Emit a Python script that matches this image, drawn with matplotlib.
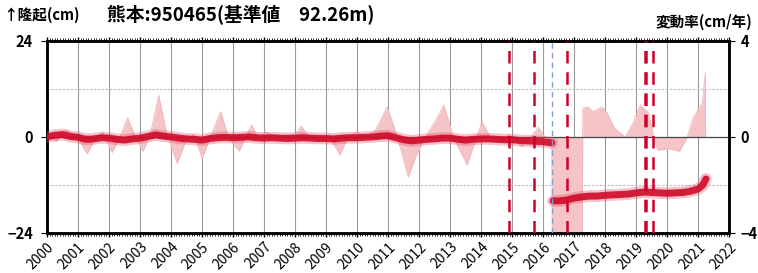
import matplotlib
matplotlib.use("Agg")
import matplotlib.pyplot as plt

plt.rcParams["font.family"] = ["Noto Sans CJK JP", "DejaVu Sans"]

# displacement (cm)
disp_t_pre = [2000.0, 2000.25, 2000.5, 2000.75, 2001.0, 2001.25, 2001.5, 2001.75,
              2002.0, 2002.25, 2002.5, 2002.75, 2003.0, 2003.25, 2003.5, 2003.75,
              2004.0, 2004.25, 2004.5, 2004.75, 2005.0, 2005.25, 2005.5, 2005.75,
              2006.0, 2006.25, 2006.5, 2006.75, 2007.0, 2007.25, 2007.5, 2007.75,
              2008.0, 2008.25, 2008.5, 2008.75, 2009.0, 2009.25, 2009.5, 2009.75,
              2010.0, 2010.25, 2010.5, 2010.75, 2011.0, 2011.25, 2011.5, 2011.75,
              2012.0, 2012.25, 2012.5, 2012.75, 2013.0, 2013.25, 2013.5, 2013.75,
              2014.0, 2014.25, 2014.5, 2014.75, 2015.0, 2015.25, 2015.5, 2015.75,
              2016.0, 2016.28]
disp_v_pre = [0.0, 0.4, 0.6, 0.1, -0.1, -0.6, -0.5, -0.2,
              -0.3, -0.6, -0.8, -0.5, -0.3, 0.1, 0.5, 0.2,
              0.0, -0.3, -0.5, -0.6, -0.8, -0.4, -0.2, -0.1,
              -0.2, -0.1, 0.0, -0.2, -0.3, -0.2, -0.3, -0.4,
              -0.3, -0.2, -0.3, -0.4, -0.4, -0.5, -0.3, -0.2,
              -0.2, -0.1, 0.0, 0.2, 0.3, -0.2, -0.7, -1.0,
              -0.8, -0.6, -0.5, -0.3, -0.3, -0.6, -0.8, -0.6,
              -0.5, -0.5, -0.6, -0.7, -0.7, -0.9, -1.0, -1.1,
              -1.2, -1.5]
disp_t_post = [2016.32, 2016.5, 2016.75, 2017.0, 2017.25, 2017.5, 2017.75, 2018.0,
               2018.25, 2018.5, 2018.75, 2019.0, 2019.25, 2019.5, 2019.75, 2020.0,
               2020.25, 2020.5, 2020.75, 2021.0, 2021.15, 2021.25]
disp_v_post = [-16.0, -16.0, -15.8, -15.3, -15.0, -14.8, -14.8, -14.6,
               -14.5, -14.4, -14.3, -14.0, -13.8, -13.9, -14.0, -14.1,
               -14.0, -13.9, -13.6, -13.0, -12.0, -10.5]

# rate of change (cm/year)
rate_t = [2000.0, 2000.3, 2000.6, 2000.9, 2001.1, 2001.3, 2001.5, 2001.8,
          2002.1, 2002.35, 2002.6, 2002.85, 2003.1, 2003.35, 2003.6, 2003.85,
          2004.2, 2004.5, 2004.75, 2005.0, 2005.3, 2005.6, 2005.85, 2006.2,
          2006.4, 2006.6, 2006.8, 2007.1, 2007.4, 2007.7, 2008.0, 2008.2,
          2008.45, 2008.8, 2009.1, 2009.45, 2009.7, 2010.0, 2010.3, 2010.6,
          2010.97, 2011.3, 2011.65, 2011.9, 2012.2, 2012.5, 2012.8, 2013.1,
          2013.55, 2013.8, 2014.03, 2014.3, 2014.6, 2014.9, 2015.3, 2015.6,
          2015.85, 2016.05, 2016.28, 2016.3, 2017.26, 2017.28, 2017.45, 2017.6,
          2017.9, 2018.06, 2018.3, 2018.65, 2018.9, 2019.13, 2019.4, 2019.6,
          2019.7, 2020.1, 2020.4, 2020.65, 2020.84, 2021.13, 2021.23, 2021.24]
rate_v = [0.1, -0.2, 0.3, 0.1, -0.3, -0.7, -0.2, 0.2,
          -0.65, 0.0, 0.8, 0.0, -0.6, 0.2, 1.75, 0.2,
          -1.1, -0.1, 0.1, -0.9, 0.1, 1.05, 0.0, -0.6,
          0.0, 0.5, 0.0, 0.2, -0.1, 0.1, 0.1, 0.45,
          0.0, -0.2, 0.0, -0.75, 0.0, 0.2, 0.0, 0.3,
          1.25, 0.0, -1.67, -0.8, 0.0, 0.6, 1.33, 0.0,
          -1.17, -0.2, 0.62, 0.0, -0.2, 0.1, -0.4, 0.0,
          0.4, 0.0, -0.2, -5.0, -5.0, 1.2, 1.25, 1.05,
          1.25, 1.0, 0.37, 0.0, 0.58, 1.33, 1.0, -0.2,
          -0.55, -0.5, -0.6, 0.0, 0.8, 1.4, 2.67, 0.0]

events_red = [2014.9, 2015.71, 2016.77, 2019.27, 2019.31, 2019.55]
events_blue = [2016.29]

years = list(range(2000, 2023))

fig = plt.figure(figsize=(7.58, 2.73), dpi=100)
ax2 = fig.add_axes([0.062, 0.147, 0.900, 0.703])
ax = ax2.twinx()
ax.yaxis.tick_left()
ax2.yaxis.tick_right()
ax.set_zorder(ax2.get_zorder() + 1)
ax.patch.set_visible(False)

# rate fill (right axis)
ax2.fill_between(rate_t, 0, rate_v, color="#f4c4c7", lw=0, zorder=2)
ax2.plot(rate_t, rate_v, color="#f2b4ba", lw=0.6, zorder=2)
ax2.set_ylim(-4, 4)
ax2.set_yticks([-4, 0, 4])
ax2.set_xlim(2000, 2022)

# grid
for y in years:
    ax2.axvline(y, color="#999999", lw=0.8, zorder=1)
ax2.axhline(2, color="#bbbbbb", lw=0.8, ls=(0, (2, 1.5)), zorder=1)
ax2.axhline(-2, color="#bbbbbb", lw=0.8, ls=(0, (2, 1.5)), zorder=1)
ax2.axhline(0, color="#444444", lw=0.9, zorder=3)

# displacement (left axis)
for t, v in [(disp_t_pre, disp_v_pre), (disp_t_post, disp_v_post)]:
    ax.plot(t, v, color="#e4506a", lw=8.5, alpha=0.35, solid_capstyle="round",
            solid_joinstyle="round", zorder=4)
    ax.plot(t, v, color="#cf0a28", lw=5, alpha=0.9, solid_capstyle="round",
            solid_joinstyle="round", zorder=5)

for e in events_red:
    ax.axvline(e, color="#d0002a", lw=1.8, ls=(0, (5, 3.5)), zorder=6)
for e in events_blue:
    ax.axvline(e, color="#7f9fcf", lw=1.0, ls=(0, (4, 3)), zorder=6)

ax.set_ylim(-24, 24)
ax.set_yticks([-24, 0, 24])
ax.set_yticklabels(["\u221224", "0", "24"])
ax2.set_yticklabels(["\u22124", "0", "4"])
ax.set_xlim(2000, 2022)
ax2.set_xticks(years)
ax2.set_xticks([y + m / 12 for y in range(2000, 2022) for m in range(1, 12)], minor=True)
ax2.set_xticklabels([str(y) for y in years], rotation=45, ha="right", va="top",
                    rotation_mode="anchor", fontsize=10)
ax2.tick_params(axis="x", which="major", length=3, width=1, pad=2, top=True)
ax2.tick_params(axis="x", which="minor", length=2, width=0.6, top=True)
ax.tick_params(axis="y", length=4, labelsize=10.5, pad=6)
ax2.tick_params(axis="y", length=4, labelsize=10.5, pad=4, colors="black")
for t in ax.get_yticklabels() + ax2.get_yticklabels():
    t.set_fontweight("bold")

for a in (ax, ax2):
    for side in ("top", "bottom", "left", "right"):
        a.spines[side].set_linewidth(1.8)

fig.text(0.004, 0.945, "\u2191隆起(cm)", fontsize=10.5, fontweight="bold", va="center")
fig.text(0.141, 0.945, "熊本:950465(基準値　92.26m)", fontsize=13.5, fontweight="bold",
         va="center")
fig.text(0.993, 0.92, "変動率(cm/年)", fontsize=10.5, fontweight="bold", va="center",
         ha="right")

fig.savefig("out.png", dpi=100)
